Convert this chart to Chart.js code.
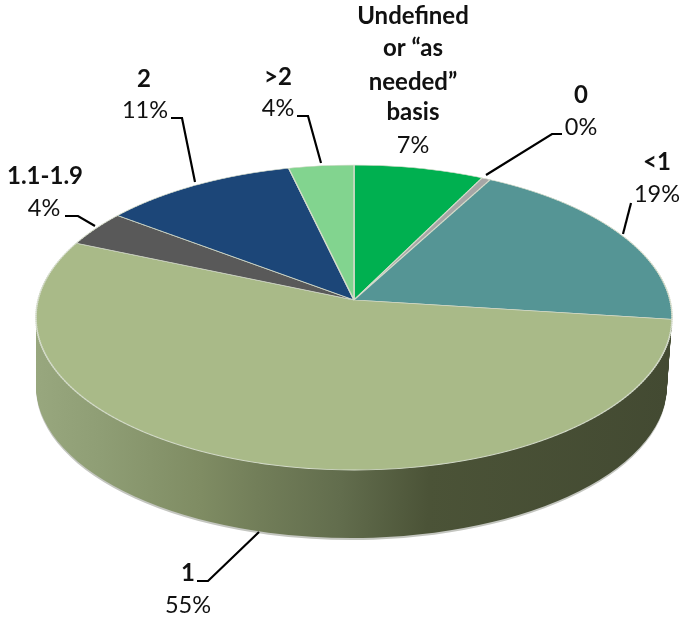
<!DOCTYPE html>
<html>
<head>
<meta charset="utf-8">
<style>
  html, body { margin: 0; padding: 0; background: #fff; }
  #wrap { width: 683px; height: 620px; }
</style>
<script src="https://cdn.jsdelivr.net/npm/chart.js@4"></script>
</head>
<body>
<div id="wrap"><canvas id="pie" width="683" height="620"></canvas></div>
<script>
const categories = ['Undefined or "as needed" basis', '0', '<1', '1', '1.1-1.9', '2', '>2'];
const shares = [7.4, 0.5, 19.2, 54.6, 3.8, 11.1, 3.7];
const percentLabels = ['7%', '0%', '19%', '55%', '4%', '11%', '4%'];
const sliceColors = ['#00b050', '#a6a6a6', '#559595', '#a9ba88', '#595959', '#1c4678', '#82d48f'];

// where the labels and their leader lines go
const labelLayout = [
  { x: 413, names: ['Undefined', 'or \u201cas', 'needed\u201d', 'basis'], nameY: [16, 48, 82, 112], pctX: 413, pctY: 145, line: [] },
  { x: 581, names: ['0'], nameY: [95], pctX: 581, pctY: 127, line: [[486, 175], [552, 134], [562, 134]] },
  { x: 657, names: ['<1'], nameY: [162], pctX: 657, pctY: 194, line: [[631, 203], [623, 234]] },
  { x: 188, names: ['1'], nameY: [573], pctX: 188, pctY: 605, line: [[197, 581], [208, 581], [259, 532]] },
  { x: 45, names: ['1.1-1.9'], nameY: [176], pctX: 44, pctY: 208, line: [[65, 216], [78, 216], [95, 226]] },
  { x: 144, names: ['2'], nameY: [79], pctX: 145, pctY: 110, line: [[171, 118], [182, 118], [195, 182]] },
  { x: 278, names: ['>2'], nameY: [77], pctX: 278, pctY: 108, line: [[297, 116], [308, 116], [321, 163]] }
];

// pie geometry on the page: apex, radius of the flat pie, and the perspective tilt
const RADIUS = 318, APEX_X = 354, APEX_Y = 300;
const BACK = 135, FRONT = 170, DEPTH = 68;
const TILT = (FRONT - BACK) / (FRONT + BACK);
const VSCALE = FRONT * (1 - TILT);
const HSCALE = 315.9;

// the side of the pie, the flat pie squashed and stepped down the page
function drawWall(ctx, meta) {
  const grad = ctx.createLinearGradient(36, 0, 672, 0);
  grad.addColorStop(0, '#98a77e');
  grad.addColorStop(0.1, '#8f9e75');
  grad.addColorStop(0.26, '#7f8c63');
  grad.addColorStop(0.35, '#727e59');
  grad.addColorStop(0.48, '#626d4d');
  grad.addColorStop(0.62, '#4b5337');
  grad.addColorStop(1, '#434a32');
  const drawStep = (dy, fill) => {
    // the bottom rim is a little narrower, and mostly on the right
    const t = dy / DEPTH;
    ctx.save();
    ctx.translate(APEX_X - 2.5 * t, 318 + dy);
    ctx.scale(1 - 0.008 * t, 152 / RADIUS);
    ctx.translate(-APEX_X, -APEX_Y);
    meta.data.forEach((arc) => {
      const saved = arc.options;
      arc.options = Object.assign({}, saved, { backgroundColor: fill, borderColor: fill, borderWidth: 0 });
      arc.draw(ctx);
      arc.options = saved;
    });
    ctx.restore();
  };
  drawStep(DEPTH + 2, '#c4c6c0');
  for (let dy = DEPTH; dy >= 0; dy -= 1) drawStep(dy, grad);
}

// the top, drawn in thin rows so the apex sits behind the middle of the ellipse
function drawTop(ctx, chart, meta) {
  for (let y = -BACK - 2; y < FRONT + 2; y += 2) {
    const v = (y + 1) / (VSCALE + TILT * (y + 1));
    const w = 1 - TILT * v;
    const sx = HSCALE / (RADIUS * w);
    const sy = VSCALE / (RADIUS * w * w);
    ctx.save();
    ctx.beginPath();
    ctx.rect(0, APEX_Y + y, chart.width, 2);
    ctx.clip();
    ctx.translate(APEX_X, APEX_Y + y + 1);
    ctx.scale(sx, sy);
    ctx.translate(-APEX_X, -APEX_Y - v * RADIUS);
    meta.controller.draw();
    ctx.restore();
  }
}

const perspectivePie = {
  id: 'perspectivePie',
  beforeDatasetDraw(chart, args) {
    const ctx = chart.ctx;
    drawWall(ctx, args.meta);
    drawTop(ctx, chart, args.meta);
    return false;
  },
  afterDraw(chart) {
    const ctx = chart.ctx;
    ctx.save();
    ctx.textAlign = 'center';
    ctx.textBaseline = 'middle';
    ctx.fillStyle = '#111';
    labelLayout.forEach((lab, i) => {
      ctx.font = 'bold 24px Lato';
      lab.names.forEach((txt, n) => ctx.fillText(txt, lab.x, lab.nameY[n]));
      ctx.font = '23.5px Lato';
      ctx.fillText(percentLabels[i], lab.pctX, lab.pctY);
      if (lab.line.length) {
        ctx.beginPath();
        lab.line.forEach((p, n) => (n ? ctx.lineTo(p[0], p[1]) : ctx.moveTo(p[0], p[1])));
        ctx.strokeStyle = '#000';
        ctx.lineWidth = 2.2;
        ctx.stroke();
      }
    });
    ctx.restore();
  }
};

new Chart(document.getElementById('pie'), {
  type: 'pie',
  data: {
    labels: categories,
    datasets: [{
      data: shares,
      backgroundColor: sliceColors,
      borderColor: '#d5dccb',
      borderWidth: 1.5,
      clip: false
    }]
  },
  options: {
    responsive: false,
    animation: false,
    radius: RADIUS,
    layout: { padding: { left: 25, bottom: 20 } },
    plugins: { legend: { display: false }, tooltip: { enabled: false } }
  },
  plugins: [perspectivePie]
});
</script>
</body>
</html>
